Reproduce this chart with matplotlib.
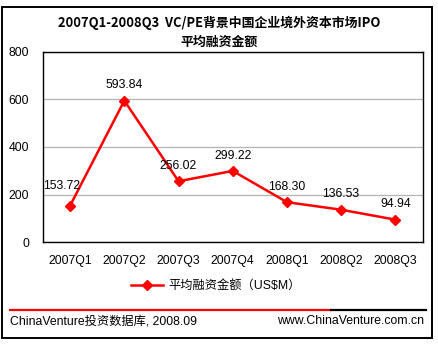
import matplotlib.pyplot as plt
from matplotlib.lines import Line2D
from matplotlib.patches import Rectangle

plt.rcParams['font.family'] = ['Liberation Sans', 'Noto Sans CJK SC', 'DejaVu Sans']

quarters = ['2007Q1', '2007Q2', '2007Q3', '2007Q4', '2008Q1', '2008Q2', '2008Q3']
avg_ipo = [153.72, 593.84, 256.02, 299.22, 168.30, 136.53, 94.94]
yticks = [0, 200, 400, 600, 800]
title = '2007Q1-2008Q3  VC/PE背景中国企业境外资本市场IPO\n平均融资金额'
series_name = '平均融资金额（US$M）'
source = 'ChinaVenture投资数据库, 2008.09'
site = 'www.ChinaVenture.com.cn'

W, H = 438, 347
fs = 8.8
fig = plt.figure(figsize=(W / 100, H / 100), dpi=100)

def fx(px):
    return px / W

def fy(py):
    return 1 - py / H

# outer border
fig.add_artist(Rectangle((fx(2), fy(338)), fx(430), 331 / H, fill=False,
                         edgecolor='black', linewidth=1.4, transform=fig.transFigure))

ax = fig.add_axes([fx(43), fy(242.3), fx(422.5 - 43), (242.3 - 51.5) / H])
x = range(len(quarters))
line, = ax.plot(x, avg_ipo, color='#ff0000', lw=1.8, marker='D', ms=5.5,
                markeredgecolor='#ff0000', markerfacecolor='#ff0000')
for i, v in enumerate(avg_ipo):
    dx = -6 if i == 0 else 0
    dy = 14 if i == 0 else 11
    ax.annotate(f'{v:.2f}', (i, v), xytext=(dx, dy), textcoords='offset points',
                ha='center', va='center', fontsize=fs, color='black')

ax.set_xlim(-0.5, len(quarters) - 0.5)
ax.set_ylim(yticks[0], yticks[-1])
ax.set_yticks(yticks)
ax.set_xticks(list(x))
ax.set_xticklabels(quarters)
ax.tick_params(axis='both', length=0, labelsize=fs)
ax.tick_params(axis='x', pad=9)
ax.tick_params(axis='y', pad=10)
ax.yaxis.grid(True, color='#b4b4b4', lw=0.9)
ax.set_axisbelow(True)
for s in ax.spines.values():
    s.set_color('black')
    s.set_linewidth(1.0)

fig.text(0.5, fy(32.5), title, ha='center', va='center', fontsize=9.3,
         fontweight='bold', family=['Noto Sans CJK SC', 'DejaVu Sans'], linespacing=1.4)

handle = Line2D([], [], color='#ff0000', lw=1.8, marker='D', ms=5.5)
fig.legend([handle], [series_name], loc='center', bbox_to_anchor=(fx(216), fy(286)),
           frameon=False, handlelength=2.6, handletextpad=0.4,
           prop={'family': ['Liberation Sans', 'Noto Sans CJK SC'], 'size': fs})

# footer rule: red then black
fig.add_artist(Line2D([fx(10), fx(331)], [fy(309.7)] * 2, color='#ff0000', lw=1.6,
                      transform=fig.transFigure))
fig.add_artist(Line2D([fx(331), fx(426)], [fy(309.7)] * 2, color='black', lw=1.6,
                      transform=fig.transFigure))
fig.text(fx(10), fy(321), source, ha='left', va='center', fontsize=fs)
fig.text(fx(424), fy(321), site, ha='right', va='center', fontsize=fs)

fig.savefig('out.png', dpi=100)
